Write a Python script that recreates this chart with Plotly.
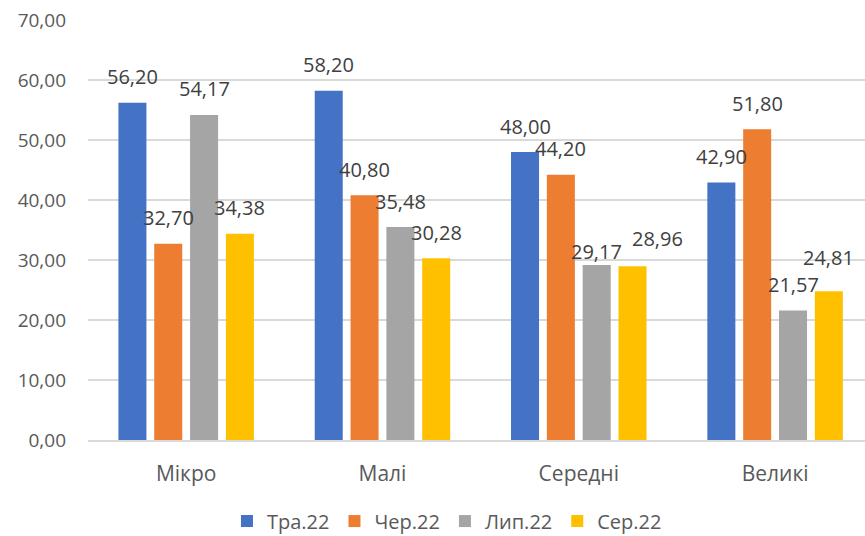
import plotly.graph_objects as go

categories = ["Мікро", "Малі", "Середні", "Великі"]
series_names = ["Тра.22", "Чер.22", "Лип.22", "Сер.22"]
tra22 = [56.20, 58.20, 48.00, 42.90]
cher22 = [32.70, 40.80, 44.20, 51.80]
lyp22 = [54.17, 35.48, 29.17, 21.57]
ser22 = [34.38, 30.28, 28.96, 24.81]
y_ticks = [0, 10, 20, 30, 40, 50, 60, 70]

series_values = [tra22, cher22, lyp22, ser22]
colors = ["#4472C4", "#ED7D31", "#A5A5A5", "#FFC000"]

# label placement tweaks (pixels) for a few labels: (series, category) -> (dx, dy)
label_tweaks = {(2, 2): (0, -13), (3, 2): (25, 2), (3, 3): (0, 8)}

BARGAP = 0.27
GROUPGAP = 0.218
FONT = "Open Sans"


def fmt(v):
    return f"{v:.2f}".replace(".", ",")


fig = go.Figure()
for name, vals, col in zip(series_names, series_values, colors):
    fig.add_trace(go.Bar(name=name, x=categories, y=vals, marker_color=col,
                         marker_line_width=0))

n = len(series_names)
slot = (1 - BARGAP) / n
annotations = []
for s, vals in enumerate(series_values):
    off = -(1 - BARGAP) / 2 + slot * (s + 0.5)
    for c, v in enumerate(vals):
        dx, dy = label_tweaks.get((s, c), (0, 0))
        annotations.append(dict(
            x=c + off, y=v, xref="x", yref="y", text=fmt(v), showarrow=False,
            yanchor="middle", xanchor="center", xshift=dx, yshift=26 + dy,
            font=dict(family=FONT, size=20, color="#404040")))

fig.update_layout(
    width=865, height=536,
    margin=dict(l=88, r=0, t=20, b=96, autoexpand=False),
    paper_bgcolor="white", plot_bgcolor="white",
    barmode="group", bargap=BARGAP, bargroupgap=GROUPGAP,
    font=dict(family=FONT, size=20, color="#595959"),
    annotations=annotations,
    showlegend=True,
    legend=dict(orientation="h", x=0.462, xanchor="center", y=-0.193, yanchor="middle",
                font=dict(family=FONT, size=20, color="#595959")),
    xaxis=dict(type="category", range=[-0.5, 3.458], showgrid=False,
               showline=True, linecolor="#d9d9d9", linewidth=2,
               ticks="", ticklabelstandoff=14, automargin=False,
               tickfont=dict(family=FONT, size=21, color="#595959")),
    yaxis=dict(range=[0, 70], tickvals=y_ticks, ticktext=[fmt(t) for t in y_ticks],
               showgrid=True, gridcolor="#d9d9d9", gridwidth=1.5, automargin=False,
               zeroline=False, showline=False, ticks="", ticklabelstandoff=21,
               tickfont=dict(family=FONT, size=19, color="#595959")),
)

fig.write_html("out.html", config={"displayModeBar": False},
               post_script="document.body.style.margin='0';document.body.style.overflow='hidden';")
